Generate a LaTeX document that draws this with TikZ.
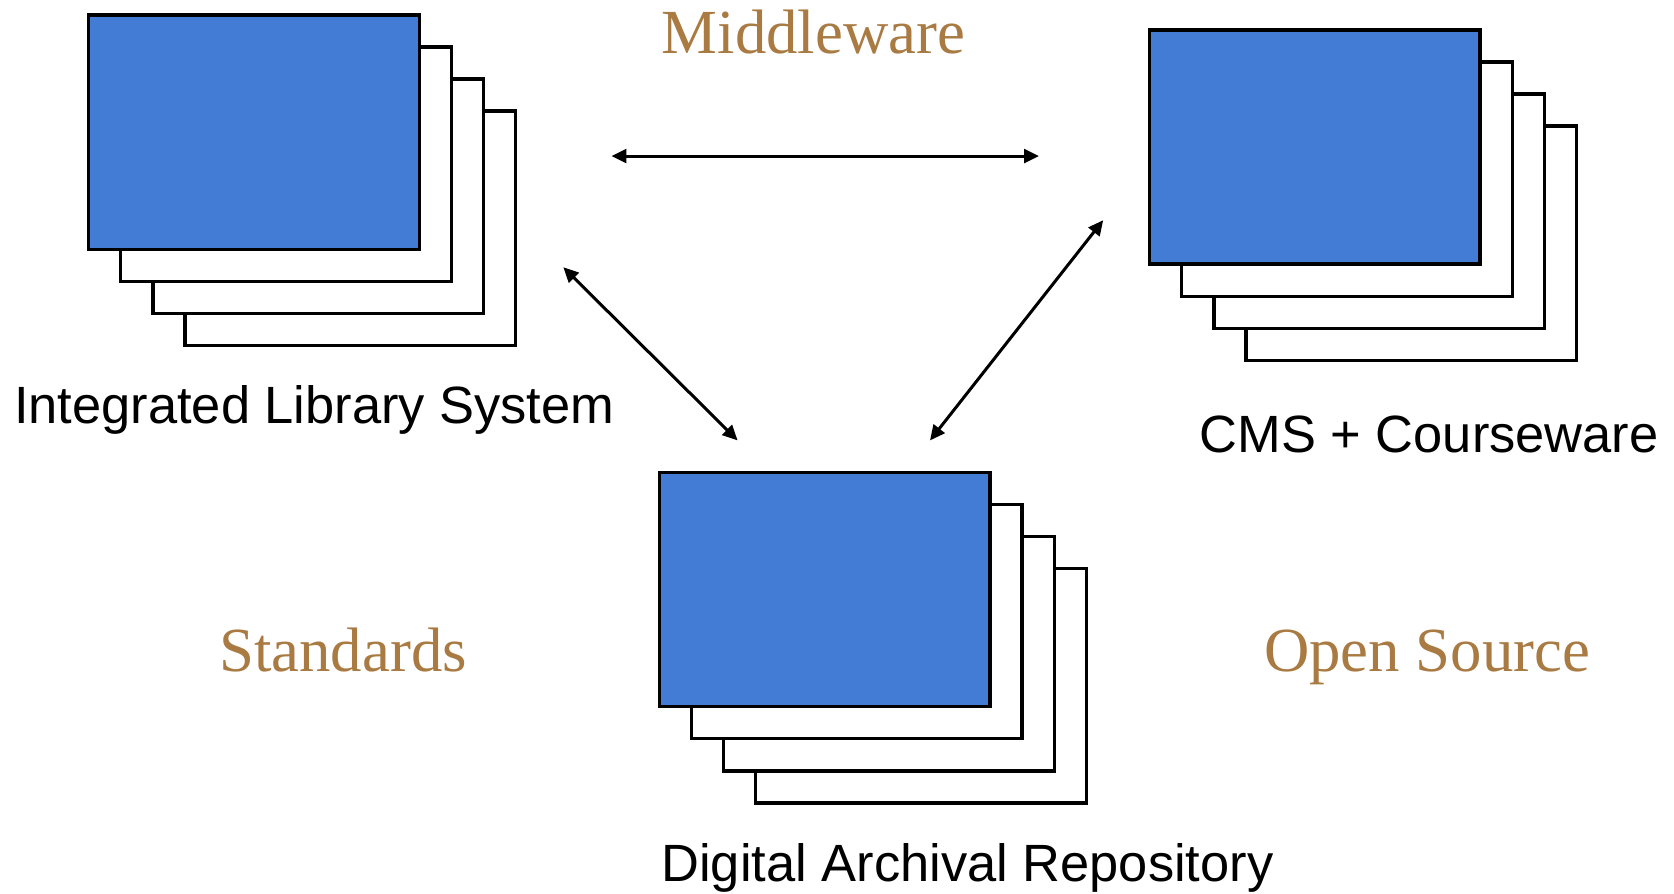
\documentclass[tikz,border=0pt]{standalone}
\usepackage{fontspec}
\setmainfont{Liberation Serif}
\setsansfont{Liberation Sans}
\usetikzlibrary{arrows.meta}
\definecolor{boxblue}{HTML}{427CD4}
\definecolor{themebrown}{HTML}{A97B43}
\begin{document}
\begin{tikzpicture}[x=0.01cm,y=-0.01cm,
  bluebox/.style={draw=black, line width=0.9pt, fill=boxblue, minimum width=3.09cm, minimum height=2.19cm, inner sep=0pt, outer sep=0pt, anchor=north west},
  paperbox/.style={draw=black, line width=0.9pt, fill=white, minimum width=3.09cm, minimum height=2.19cm, inner sep=0pt, outer sep=0pt, anchor=north west},
  lbl/.style={font=\sffamily\fontsize{13.95}{16}\selectfont, inner sep=0pt, anchor=base},
  theme/.style={font=\rmfamily\fontsize{16.7}{19}\selectfont, text=themebrown, inner sep=0pt, anchor=base},
  link/.style={{Triangle[length=4pt,width=3.7pt]}-{Triangle[length=4pt,width=3.7pt]}, line width=0.8pt}
]
\useasboundingbox (0,0) rectangle (1566,835.4);
% Integrated Library System stack
\foreach \d in {3,2,1} \node[paperbox] (ils\d) at (83+30*\d,14+30*\d) {};
\node[bluebox] (ils) at (83,14) {};
% CMS stack
\foreach \d in {3,2,1} \node[paperbox] (cms\d) at (1075.5+30*\d,28+30*\d) {};
\node[bluebox] (cms) at (1075.5,28) {};
% Digital Archival Repository stack
\foreach \d in {3,2,1} \node[paperbox] (dar\d) at (617+30*\d,442+30*\d) {};
\node[bluebox] (dar) at (617,442) {};
% labels
\node[lbl] (ilslabel) at (294,396.5) {Integrated Library System};
\node[lbl] (cmslabel) at (1337,423) {CMS + Courseware};
\node[lbl] (darlabel) at (905,825) {Digital Archival Repository};
\node[theme] (mw) at (761,50) {Middleware};
\node[theme] (std) at (321,628.5) {Standards};
\node[theme] (os) at (1335,628.5) {Open Source};
% connector ends
\coordinate (hA) at (572,146);
\coordinate (hB) at (972,146);
\coordinate (lA) at (527,250);
\coordinate (lB) at (690,412);
\coordinate (rA) at (1032,206);
\coordinate (rB) at (870,412);
\draw[link] (hA) -- (hB);
\draw[link] (lA) -- (lB);
\draw[link] (rA) -- (rB);
\end{tikzpicture}
\end{document}
